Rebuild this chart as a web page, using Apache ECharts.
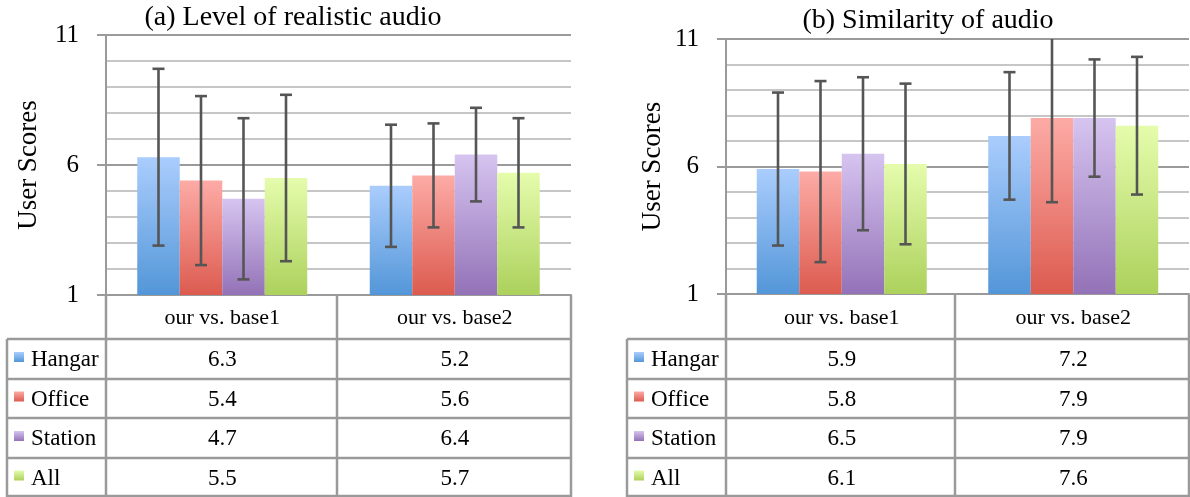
<!DOCTYPE html>
<html>
<head>
<meta charset="utf-8">
<script src="https://cdn.jsdelivr.net/npm/echarts@6/dist/echarts.min.js"></script>
<style>
html,body{margin:0;padding:0;background:#fff;}
#main{width:1190px;height:497px;}
</style>
</head>
<body>
<div id="main"></div>
<script>
// ---------- data ----------
const categories = ['our vs. base1', 'our vs. base2'];
const seriesNames = ['Hangar', 'Office', 'Station', 'All'];
const titleA = '(a) Level of realistic audio';
const titleB = '(b) Similarity of audio';
const yAxisName = 'User Scores';
const yMin = 1, yMax = 11, yStep = 5;

// (a) Level of realistic audio: means and error (±)
const realHangar = [6.3, 5.2];
const realOffice = [5.4, 5.6];
const realStation = [4.7, 6.4];
const realAll = [5.5, 5.7];
const realHangarErr = [3.4, 2.35];
const realOfficeErr = [3.25, 2.0];
const realStationErr = [3.1, 1.8];
const realAllErr = [3.2, 2.1];

// (b) Similarity of audio
const simHangar = [5.9, 7.2];
const simOffice = [5.8, 7.9];
const simStation = [6.5, 7.9];
const simAll = [6.1, 7.6];
const simHangarErr = [3.0, 2.5];
const simOfficeErr = [3.55, 3.3];
const simStationErr = [3.0, 2.3];
const simAllErr = [3.15, 2.7];

// ---------- styles ----------
const FONT = 'Liberation Serif';
const gradients = [
  ['#aacdfd', '#5396d8'],
  ['#fdaba6', '#dc5b4f'],
  ['#d6c4f0', '#9372b7'],
  ['#e5fcac', '#acd15c']
];
const BAR_W = 42.5;
const GRID_COLOR = '#9a9a9a';
const MINOR_COLOR = '#c6c6c6';
const ERR_COLOR = '#555555';

const panels = [
  { means: [realHangar, realOffice, realStation, realAll],
    errs: [realHangarErr, realOfficeErr, realStationErr, realAllErr],
    title: titleA,
    grid: { left: 106, right: 1190 - 571, top: 35, bottom: 497 - 295 },
    tbl: { x0: 7, x1: 106, xm: 337, x2: 571 },
    titleX: 293, titleY: 18, nameX: 28, labelMargin: 27 },
  { means: [simHangar, simOffice, simStation, simAll],
    errs: [simHangarErr, simOfficeErr, simStationErr, simAllErr],
    title: titleB,
    grid: { left: 726, right: 1, top: 39, bottom: 497 - 294 },
    tbl: { x0: 627, x1: 726, xm: 955, x2: 1189 },
    titleX: 928, titleY: 21, nameX: 652, labelMargin: 27 }
];

function grad(c) {
  return new echarts.graphic.LinearGradient(0, 0, 0, 1, [
    { offset: 0, color: c[0] }, { offset: 1, color: c[1] }
  ]);
}

const option = {
  animation: false,
  backgroundColor: '#ffffff',
  grid: panels.map(p => Object.assign({ containLabel: false }, p.grid)),
  xAxis: panels.map((p, i) => ({
    type: 'category', gridIndex: i, data: categories,
    axisLine: { show: true, lineStyle: { color: GRID_COLOR, width: 2 } },
    axisTick: { show: false },
    axisLabel: { show: false },
    splitLine: { show: false }
  })),
  yAxis: panels.map((p, i) => ({
    type: 'value', gridIndex: i, min: yMin, max: yMax, interval: yStep,
    name: yAxisName, nameLocation: 'middle', nameRotate: 90,
    nameGap: p.grid.left - p.nameX - 14,
    nameTextStyle: { fontFamily: FONT, fontSize: 27, color: '#000' },
    axisLine: { show: true, lineStyle: { color: GRID_COLOR, width: 2 } },
    axisTick: { show: true, inside: false, length: 9, lineStyle: { color: GRID_COLOR, width: 2 } },
    axisLabel: { fontFamily: FONT, fontSize: 25, color: '#000', margin: p.labelMargin },
    splitLine: { show: true, lineStyle: { color: GRID_COLOR, width: 2 } },
    minorTick: { show: false, splitNumber: 5 },
    minorSplitLine: { show: true, lineStyle: { color: MINOR_COLOR, width: 2 } }
  })),
  series: []
};

panels.forEach((p, pi) => {
  seriesNames.forEach((name, si) => {
    option.series.push({
      type: 'bar', name: name, xAxisIndex: pi, yAxisIndex: pi,
      data: p.means[si], barWidth: BAR_W, barGap: '0%',
      itemStyle: { color: grad(gradients[si]), shadowBlur: 4, shadowColor: 'rgba(0,0,0,0.22)', shadowOffsetX: 2, shadowOffsetY: 0 },
      z: 2
    });
  });
  seriesNames.forEach((name, si) => {
    const offset = (si - 1.5) * BAR_W;
    option.series.push({
      type: 'custom', name: name + ' err', xAxisIndex: pi, yAxisIndex: pi,
      clip: true, z: 5,
      data: p.means[si].map((v, ci) => [ci, v, p.errs[si][ci]]),
      encode: { x: 0, y: 1 },
      renderItem: function (params, api) {
        const ci = api.value(0), v = api.value(1), e = api.value(2);
        const top = api.coord([ci, v + e]);
        const bot = api.coord([ci, v - e]);
        const x = top[0] + offset;
        const cap = 6;
        const st = { stroke: ERR_COLOR, lineWidth: 2.6 };
        return {
          type: 'group',
          children: [
            { type: 'line', shape: { x1: x, y1: top[1], x2: x, y2: bot[1] }, style: st },
            { type: 'line', shape: { x1: x - cap, y1: top[1], x2: x + cap, y2: top[1] }, style: st },
            { type: 'line', shape: { x1: x - cap, y1: bot[1], x2: x + cap, y2: bot[1] }, style: st }
          ]
        };
      }
    });
  });
});

const chart = echarts.init(document.getElementById('main'), null, { renderer: 'canvas' });
chart.setOption(option);

// ---------- titles, table (graphic) ----------
const rowLines = [339, 379, 418, 458, 497];
const headerTop = 295;
const elements = [];
const lineStyle = { stroke: GRID_COLOR, lineWidth: 2.5 };
function txt(x, y, text, size, align) {
  return { type: 'text', x: x, y: y, z: 10,
    style: { text: text, fontFamily: FONT, fontSize: size, fill: '#000', align: align || 'center', verticalAlign: 'middle' } };
}

panels.forEach((p, pi) => {
  const t = p.tbl;
  elements.push(txt(p.titleX, p.titleY, p.title, 28, 'center'));
  rowLines.slice(0, 4).forEach(y => {
    elements.push({ type: 'line', shape: { x1: t.x0, y1: y, x2: t.x2, y2: y }, style: lineStyle });
  });
  elements.push({ type: 'line', shape: { x1: t.x0, y1: 496, x2: t.x2, y2: 496 }, style: lineStyle });
  elements.push({ type: 'line', shape: { x1: t.x0, y1: rowLines[0], x2: t.x0, y2: 497 }, style: lineStyle });
  [t.x1, t.xm, t.x2].forEach(x => {
    elements.push({ type: 'line', shape: { x1: x, y1: headerTop, x2: x, y2: 497 }, style: lineStyle });
  });
  categories.forEach((c, ci) => {
    const cx = chart.convertToPixel({ xAxisIndex: pi }, ci);
    elements.push(txt(cx, (headerTop + rowLines[0]) / 2 + 1, c, 22, 'center'));
  });
  seriesNames.forEach((name, si) => {
    const yc = (rowLines[si] + rowLines[si + 1]) / 2 + 1;
    elements.push({ type: 'rect', shape: { x: t.x0 + 7, y: yc - 8, width: 10, height: 10 },
      style: { fill: grad(gradients[si]) } });
    elements.push(txt(t.x0 + 24, yc, name, 23, 'left'));
    categories.forEach((c, ci) => {
      const cx = chart.convertToPixel({ xAxisIndex: pi }, ci);
      elements.push(txt(cx, yc, p.means[si][ci].toFixed(1), 23, 'center'));
    });
  });
});

chart.setOption({ graphic: { elements: elements } });
</script>
</body>
</html>
